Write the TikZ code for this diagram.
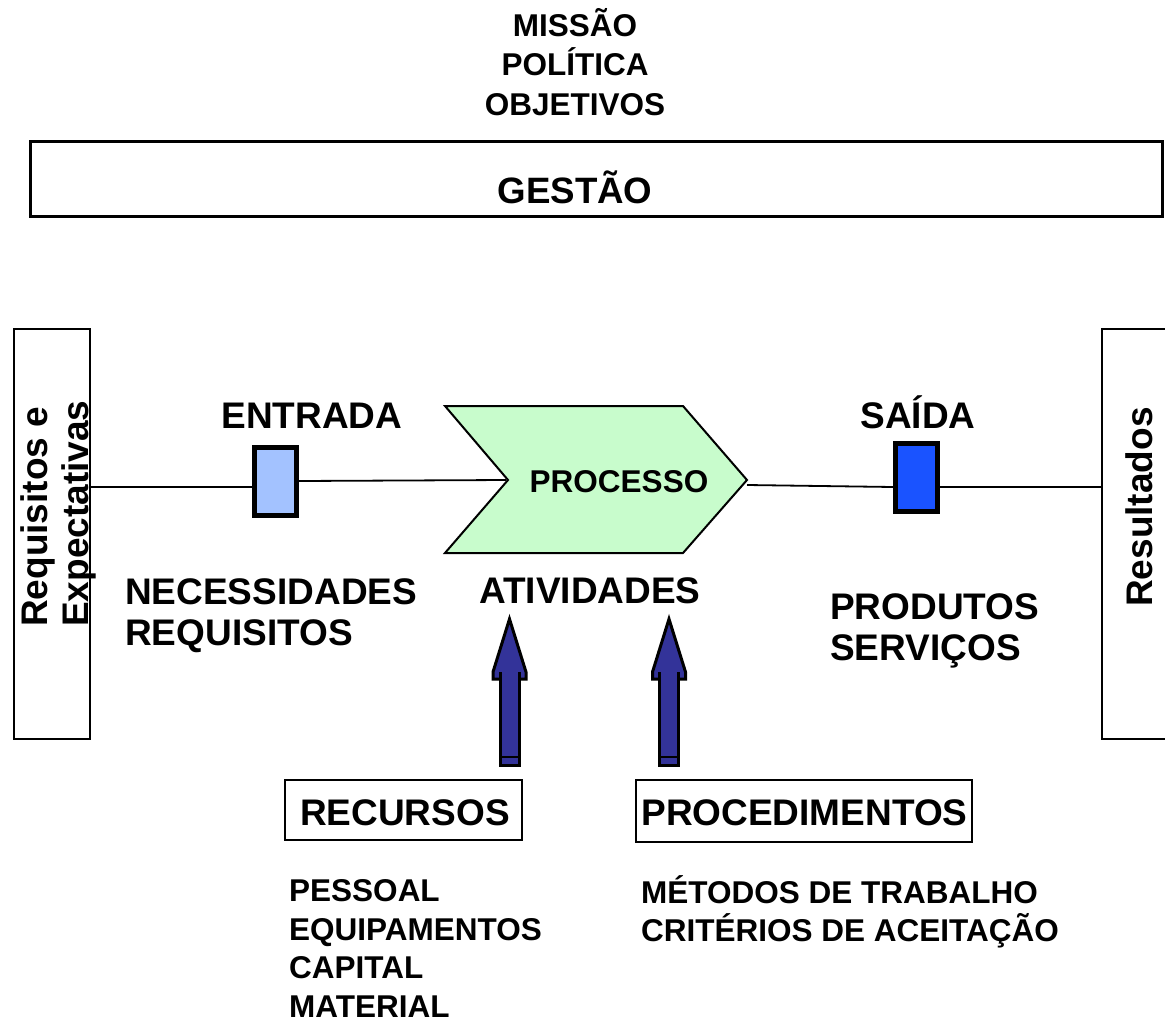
\documentclass[tikz,border=0pt]{standalone}
\usepackage{fontspec}
\setmainfont{Liberation Sans}
\usetikzlibrary{positioning,calc}
\definecolor{procgreen}{HTML}{C8FCCC}
\definecolor{entblue}{HTML}{A3C2FF}
\definecolor{saiblue}{HTML}{1A53FF}
\definecolor{arrowblue}{HTML}{333399}
\tikzset{
  big/.style={font=\fontsize{37}{41}\selectfont\bfseries, inner sep=0},
  small/.style={font=\fontsize{31.5}{39}\selectfont\bfseries, inner sep=0},
  frame/.style={draw, line width=2.5pt, inner sep=0},
  port/.style={draw, line width=5pt, inner sep=0, minimum width=42pt, minimum height=68pt},
  wire/.style={line width=1.8pt}
}
\begin{document}
\begin{tikzpicture}[x=1pt,y=-1pt]
\useasboundingbox (0,0) rectangle (1165,1017);

% top
\node[small, font=\fontsize{31.5}{39.5}\selectfont\bfseries, align=center, anchor=base] (mpo) at (575,115) {MISSÃO\\POLÍTICA\\OBJETIVOS};
\node[frame, line width=3pt, minimum width=1132pt, minimum height=75pt] (gbox) at (596,178.5) {};
\node[big, font=\fontsize{36.7}{40}\selectfont\bfseries, anchor=base] (gest) at (575,203) {GESTÃO};

% side boxes
\node[frame, minimum width=76pt, minimum height=410pt] (reqbox) at (52,534) {};
\node[frame, minimum width=90pt, minimum height=410pt] (resbox) at (1147,534) {};
\node[big, rotate=90, align=left, anchor=base west] (req) at (88,627) {Requisitos e\\Expectativas};
\node[big, rotate=90, anchor=base west] (res) at (1152,607) {Resultados};

% entrada / processo / saida
\node[port, fill=entblue] (ent) at (275.5,481.5) {};
\node[port, fill=saiblue] (sai) at (916.5,477.5) {};
\draw[line width=2pt, fill=procgreen] (445,406) -- (683,406) -- (747,480) -- (683,553) -- (445,553) -- (508,480) -- cycle;
\coordinate (notch) at (506,480);
\coordinate (tip) at (747,485);
\node[small, anchor=base] (proc) at (619,492) {PROCESSO};

\draw[wire] (reqbox.east |- 0,487) -- (ent.west |- 0,487);
\draw[wire] (ent.east |- 0,481) -- (notch);
\draw[wire] (tip) -- (sai.west |- 0,487);
\draw[wire] (sai.east |- 0,487) -- (resbox.west |- 0,487);

\node[big, anchor=base] (entt) at (312,428) {ENTRADA};
\node[big, anchor=base] (sait) at (918,428) {SAÍDA};
\node[big, align=left, anchor=base west] (nec) at (125,645) {NECESSIDADES\\REQUISITOS};
\node[big, anchor=base] (ativ) at (590,603) {ATIVIDADES};
\node[big, align=left, anchor=base west] (prod) at (830,660) {PRODUTOS\\SERVIÇOS};

% arrows
\foreach \x in {509.5,669} {
  \draw[line width=3pt, fill=arrowblue, line join=miter] (\x-16.5,679) -- (\x-16.5,672) -- (\x,619) -- (\x+16.5,672) -- (\x+16.5,679) -- cycle;
  \draw[line width=3pt, fill=arrowblue] (\x-9.5,672) -- (\x-9.5,765) -- (\x+9.5,765) -- (\x+9.5,672);
  \draw[line width=2.5pt] (\x-9.5,757) -- (\x+9.5,757);
}

% bottom
\node[frame, line width=2pt, minimum width=237pt, minimum height=60pt] (recbox) at (403.5,810) {};
\node[frame, line width=2pt, minimum width=336pt, minimum height=62pt] (probox) at (804,811) {};
\node[big, anchor=base] (rec) at (405,825) {RECURSOS};
\node[big, anchor=base] (pro) at (804.5,825) {PROCEDIMENTOS};
\node[small, font=\fontsize{31.5}{38.5}\selectfont\bfseries, align=left, anchor=base west] (pes) at (289,1017) {PESSOAL\\EQUIPAMENTOS\\CAPITAL\\MATERIAL};
\node[small, font=\fontsize{31.5}{38}\selectfont\bfseries, align=left, anchor=base west] (met) at (641,941) {MÉTODOS DE TRABALHO\\CRITÉRIOS DE ACEITAÇÃO};
\end{tikzpicture}
\end{document}
